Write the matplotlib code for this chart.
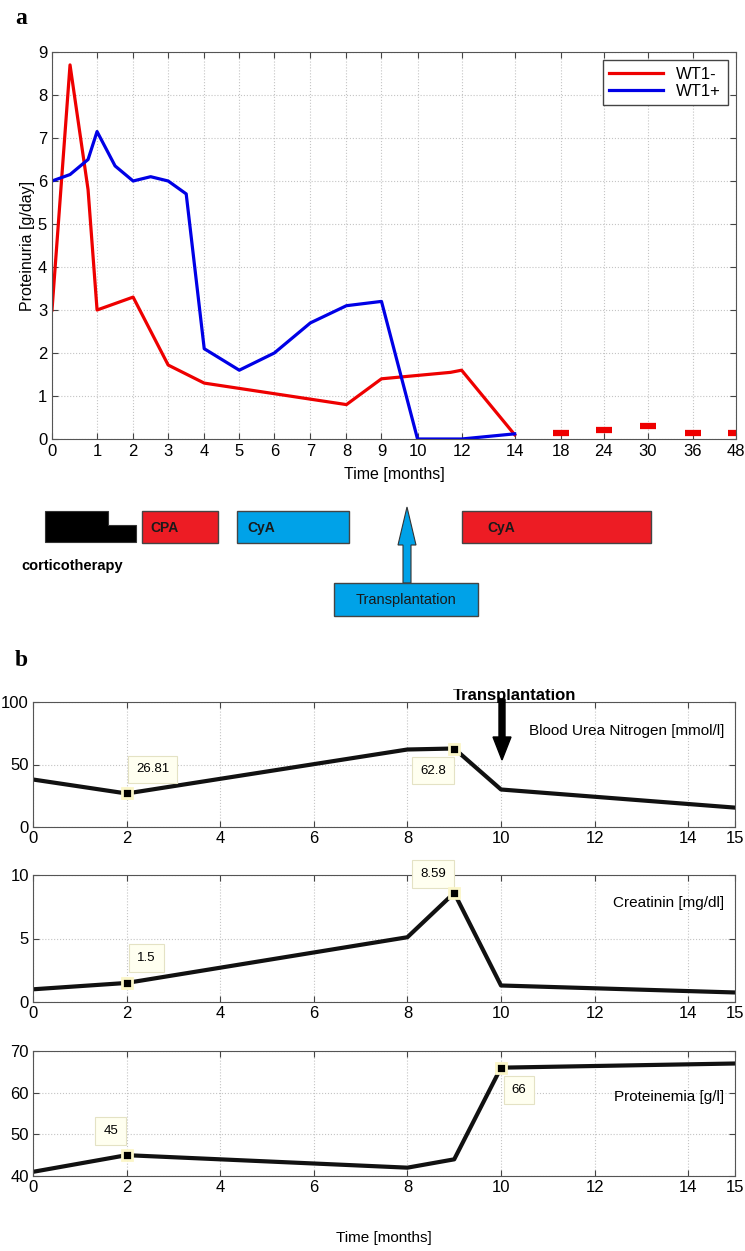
import numpy as np
import matplotlib.pyplot as plt
from matplotlib.patches import Rectangle, Polygon

# --- panel a: proteinuria ---
tick_months = [0, 1, 2, 3, 4, 5, 6, 7, 8, 9, 10, 12, 14, 18, 24, 30, 36, 48]
tick_pos = [51, 96, 132, 167, 203, 238, 273, 309, 345, 380, 416, 460, 513, 559, 602, 646, 691, 734]

red_t = [0, 0.4, 0.8, 1, 2, 3, 4, 8, 9, 11.5, 12, 14]
red_v = [3.0, 8.7, 5.8, 3.0, 3.3, 1.72, 1.3, 0.8, 1.4, 1.55, 1.6, 0.1]
red_fu_t = [18, 24, 30, 36, 48]
red_fu_v = [0.13, 0.2, 0.3, 0.15, 0.15]

blue_t = [0, 0.4, 0.8, 1, 1.5, 2, 2.5, 3, 3.5, 4, 5, 6, 7, 8, 9, 10, 12, 14]
blue_v = [6.0, 6.15, 6.5, 7.15, 6.35, 6.0, 6.1, 6.0, 5.7, 2.1, 1.6, 2.0, 2.7, 3.1, 3.2, 0.0, 0.0, 0.12]

# --- panel b ---
bun_t = [0, 2, 8, 9, 10, 15]
bun_v = [38, 26.81, 62, 62.8, 30, 15.5]
crea_t = [0, 2, 8, 9, 10, 15]
crea_v = [1.0, 1.5, 5.1, 8.59, 1.3, 0.75]
prot_t = [0, 2, 8, 9, 10, 15]
prot_v = [41, 45, 42, 44, 66, 67]

W, H = 745, 1251
fig = plt.figure(figsize=(W / 100, H / 100), dpi=100)
plt.rcParams['font.family'] = ['Liberation Sans', 'DejaVu Sans']


def box(l, t, r, b):
    return [l / W, 1 - b / H, (r - l) / W, (b - t) / H]


def to_u(t):
    return np.interp(t, tick_months, tick_pos)


grid_kw = dict(color='#c4c4c4', linestyle=':', linewidth=0.8)

ax = fig.add_axes(box(52, 52, 736, 439))
ax.plot(to_u(red_t), red_v, color='#ee0000', lw=2.3, label='WT1-')
ax.plot(to_u(blue_t), blue_v, color='#0000e6', lw=2.3, label='WT1+')
ax.plot(to_u(red_fu_t), red_fu_v, ls='none', marker='_', ms=11, mew=4.5, color='#ee0000')
ax.set_xlim(tick_pos[0], tick_pos[-1])
ax.set_ylim(0, 9)
ax.set_xticks(tick_pos)
ax.set_xticklabels([str(m) for m in tick_months])
ax.set_yticks(range(10))
ax.tick_params(direction='in', top=True, right=True, labelsize=12, length=4, color='#444444')
ax.grid(True, **grid_kw)
ax.set_xlabel('Time [months]', fontsize=11.5, labelpad=6)
ax.set_ylabel('Proteinuria [g/day]', fontsize=11.5, labelpad=2)
for s in ax.spines.values():
    s.set_color('#555555')
leg = ax.legend(loc='upper right', fontsize=12, handlelength=3.2, fancybox=False,
                framealpha=1, borderaxespad=0.5, labelspacing=0.1)
leg.get_frame().set_edgecolor('#444444')

# bottom panels
panels = [
    (702, 827, bun_t, bun_v, (0, 100), [0, 50, 100], 'Blood Urea Nitrogen [mmol/l]', 731,
     [(1, '26.81', (26, 24)), (3, '62.8', (-21, -22))]),
    (875, 1002, crea_t, crea_v, (0, 10), [0, 5, 10], 'Creatinin [mg/dl]', 903,
     [(1, '1.5', (20, 25)), (3, '8.59', (-21, 19))]),
    (1051, 1176, prot_t, prot_v, (40, 70), [40, 50, 60, 70], 'Proteinemia [g/l]', 1097,
     [(1, '45', (-16, 24)), (4, '66', (18, -22))]),
]
for top, bot, t, v, ylim, yt, lab, ly, tips in panels:
    a = fig.add_axes(box(33, top, 735, bot))
    a.plot(t, v, color='#111111', lw=3)
    a.set_xlim(0, 15)
    a.set_ylim(*ylim)
    a.set_xticks([0, 2, 4, 6, 8, 10, 12, 14, 15])
    a.set_yticks(yt)
    a.grid(True, **grid_kw)
    a.tick_params(direction='in', top=True, right=True, length=4, color='#444444',
                  pad=3, labelsize=12)
    for s in a.spines.values():
        s.set_color('#555555')
    frac = 1 - (ly - top) / (bot - top)
    a.text(0.985, frac, lab, transform=a.transAxes, ha='right', va='center', fontsize=11)
    for i, txt, off in tips:
        a.plot(t[i], v[i], marker='s', ms=6.5, mfc='black', mec='#fbf6c8', mew=2, zorder=5)
        a.annotate(txt, (t[i], v[i]), xytext=off, textcoords='offset pixels',
                   ha='center', va='center', fontsize=9.5,
                   bbox=dict(boxstyle='square,pad=0.6', fc='#fffff0', ec='#e4e2c4', lw=0.8))
a.set_xlabel('Time [months]', fontsize=11, labelpad=26)

# overlay in pixel coordinates for treatment schema and labels
ov = fig.add_axes([0, 0, 1, 1])
ov.set_xlim(0, W)
ov.set_ylim(H, 0)
ov.axis('off')
ov.patch.set_alpha(0)

ov.add_patch(Polygon([(45, 511), (108, 511), (108, 525), (136, 525), (136, 542), (45, 542)],
                     closed=True, fc='black', ec='#333333', lw=0.8))
ov.text(21, 566, 'corticotherapy', fontsize=10.5, weight='bold', va='center')
bars = [(142, 218, '#ed1c24', 'CPA', 150), (237, 349, '#00a2e8', 'CyA', 247),
        (462, 651, '#ed1c24', 'CyA', 487)]
for l, r, c, txt, tx in bars:
    ov.add_patch(Rectangle((l, 511), r - l, 32, fc=c, ec='#444444', lw=1))
    ov.text(tx, 528, txt, fontsize=10, weight='bold', va='center', color='#1a1a1a')
ov.add_patch(Polygon([(403, 583), (403, 545), (398, 545), (407, 507), (416, 545), (411, 545), (411, 583)],
                     closed=True, fc='#00a2e8', ec='#333333', lw=0.8))
ov.add_patch(Rectangle((334, 583), 144, 33, fc='#00a2e8', ec='#444444', lw=1))
ov.text(406, 600, 'Transplantation', fontsize=10.5, ha='center', va='center', color='#1a1a1a')

ov.text(15, 18, 'a', fontsize=17, weight='bold', family='Liberation Serif', va='center')
ov.text(15, 660, 'b', fontsize=17, weight='bold', family='Liberation Serif', va='center')

# transplantation arrow in panel b
ov.add_patch(Polygon([(499, 699), (505, 699), (505, 737), (511, 737), (502, 760), (493, 737), (499, 737)],
                     closed=True, fc='black', ec='black', lw=1, zorder=10))

# text cut at its top like in the source figure
clip_ax = fig.add_axes(box(380, 683, 650, 703))
clip_ax.axis('off')
clip_ax.set_xlim(0, 1)
clip_ax.set_ylim(0, 1)
tt = clip_ax.text(0.5, 0.0, 'Transplantation', ha='center', va='bottom',
                  fontsize=12, weight='bold')
clip_ax.add_patch(Rectangle((0, 0.7), 1, 0.3, fc='white', ec='none', zorder=5))

fig.savefig('out.png', dpi=100)
